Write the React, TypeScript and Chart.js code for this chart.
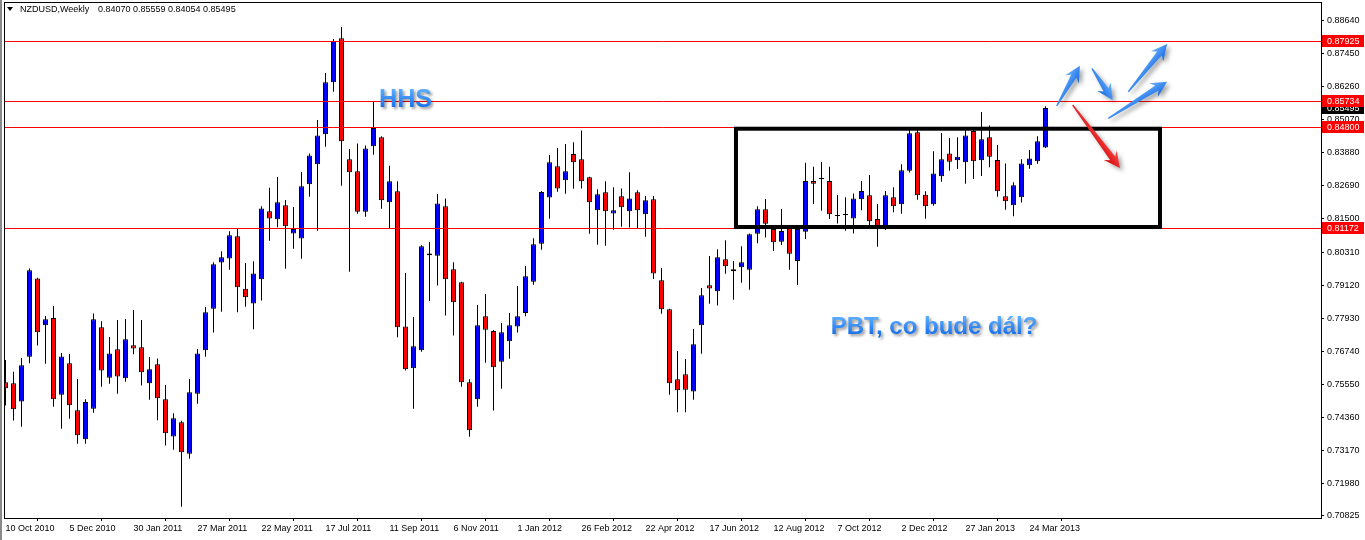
import React, { useEffect, useRef } from 'react';
import { Chart, registerables } from 'chart.js';

Chart.register(...registerables);

const SYMBOL = 'NZDUSD,Weekly';

const OPEN = [
  0.7562, 0.7558, 0.7493, 0.7654, 0.7936, 0.7767, 0.7793, 0.7517, 0.7630, 0.7461,
  0.7357, 0.7467, 0.7760, 0.7578, 0.7681, 0.7576, 0.7695, 0.7688, 0.7558, 0.7627,
  0.7501, 0.7367, 0.7418, 0.7305, 0.7521, 0.7677, 0.7827, 0.7993, 0.8008, 0.8088,
  0.7899, 0.7846, 0.7933, 0.8178, 0.8149, 0.8199, 0.8098, 0.8080, 0.8275, 0.8347,
  0.8455, 0.8642, 0.8801, 0.8365, 0.8322, 0.8176, 0.8412, 0.8444, 0.8210, 0.8250,
  0.7763, 0.7612, 0.7677, 0.8019, 0.8018, 0.8196, 0.7969, 0.7922, 0.7562, 0.7501,
  0.7800, 0.7747, 0.7636, 0.7710, 0.7763, 0.7811, 0.7924, 0.8061, 0.8227, 0.8340,
  0.8289, 0.8384, 0.8365, 0.8300, 0.8181, 0.8246, 0.8170, 0.8232, 0.8178, 0.8246,
  0.8167, 0.8221, 0.7929, 0.7825, 0.7573, 0.7591, 0.7529, 0.7767, 0.7911, 0.7890,
  0.8005, 0.7969, 0.7976, 0.7967, 0.8097, 0.8185, 0.8114, 0.8068, 0.8118, 0.7999,
  0.8104, 0.8287, 0.8295, 0.8287, 0.8162, 0.8165, 0.8152, 0.8221, 0.8235, 0.8150,
  0.8122, 0.8228, 0.8203, 0.8324, 0.8462, 0.8237, 0.8203, 0.8304, 0.8386, 0.8361,
  0.8354, 0.8467, 0.8361, 0.8444, 0.8362, 0.8232, 0.8199, 0.8228, 0.8343, 0.8358,
  0.84070,
];
const HIGH = [
  0.7642, 0.7600, 0.7649, 0.7972, 0.7938, 0.7801, 0.7837, 0.7667, 0.7664, 0.7574,
  0.7501, 0.7810, 0.7782, 0.7725, 0.7786, 0.7790, 0.7822, 0.7786, 0.7653, 0.7648,
  0.7552, 0.7450, 0.7423, 0.7574, 0.7682, 0.7833, 0.7994, 0.8034, 0.8106, 0.8115,
  0.7991, 0.7998, 0.8196, 0.8262, 0.8301, 0.8218, 0.8193, 0.8319, 0.8386, 0.8506,
  0.8676, 0.8798, 0.8841, 0.8402, 0.8422, 0.8415, 0.8574, 0.8448, 0.8342, 0.8286,
  0.7955, 0.7797, 0.8055, 0.8067, 0.8240, 0.8224, 0.7994, 0.7924, 0.7573, 0.7840,
  0.7880, 0.7750, 0.7775, 0.7811, 0.7909, 0.7981, 0.8081, 0.8251, 0.8380, 0.8406,
  0.8420, 0.8426, 0.8469, 0.8302, 0.8257, 0.8286, 0.8264, 0.8260, 0.8318, 0.8253,
  0.8233, 0.8233, 0.7973, 0.7827, 0.7675, 0.7646, 0.7754, 0.7901, 0.8017, 0.8041,
  0.8073, 0.7999, 0.8052, 0.8098, 0.8196, 0.8222, 0.8128, 0.8186, 0.8128, 0.8121,
  0.8352, 0.8338, 0.8355, 0.8338, 0.8236, 0.8228, 0.8242, 0.8287, 0.8308, 0.8204,
  0.8251, 0.8264, 0.8347, 0.8470, 0.8470, 0.8250, 0.8394, 0.8460, 0.8442, 0.8444,
  0.8481, 0.8481, 0.8535, 0.8487, 0.8416, 0.8350, 0.8282, 0.8365, 0.8398, 0.8448,
  0.85559,
];
const LOW = [
  0.7478, 0.7424, 0.7402, 0.7630, 0.7694, 0.7629, 0.7474, 0.7395, 0.7431, 0.7341,
  0.7341, 0.7452, 0.7546, 0.7557, 0.7521, 0.7564, 0.7663, 0.7550, 0.7499, 0.7425,
  0.7334, 0.7319, 0.7114, 0.7287, 0.7485, 0.7654, 0.7741, 0.7816, 0.7967, 0.7814,
  0.7834, 0.7753, 0.7856, 0.8072, 0.8120, 0.7971, 0.8043, 0.8007, 0.8230, 0.8108,
  0.8410, 0.8608, 0.8270, 0.7960, 0.8169, 0.8158, 0.8381, 0.8187, 0.8116, 0.7724,
  0.7604, 0.7467, 0.7672, 0.7855, 0.7910, 0.7802, 0.7730, 0.7546, 0.7366, 0.7474,
  0.7632, 0.7460, 0.7539, 0.7647, 0.7741, 0.7800, 0.7913, 0.8039, 0.8151, 0.8248,
  0.8241, 0.8259, 0.8260, 0.8097, 0.8057, 0.8054, 0.8111, 0.8122, 0.8119, 0.8116,
  0.8086, 0.7934, 0.7809, 0.7517, 0.7454, 0.7454, 0.7499, 0.7665, 0.7845, 0.7838,
  0.7953, 0.7859, 0.7920, 0.7895, 0.8063, 0.8083, 0.8035, 0.8056, 0.7967, 0.7912,
  0.8078, 0.8204, 0.8180, 0.8150, 0.8134, 0.8108, 0.8098, 0.8181, 0.8122, 0.8050,
  0.8110, 0.8174, 0.8169, 0.8317, 0.8219, 0.8151, 0.8198, 0.8284, 0.8324, 0.8330,
  0.8277, 0.8294, 0.8305, 0.8336, 0.8230, 0.8183, 0.8160, 0.8209, 0.8331, 0.8349,
  0.84054,
];
const CLOSE = [
  0.7540, 0.7465, 0.7623, 0.7965, 0.7742, 0.7789, 0.7501, 0.7655, 0.7479, 0.7371,
  0.7491, 0.7789, 0.7604, 0.7666, 0.7583, 0.7717, 0.7684, 0.7598, 0.7609, 0.7504,
  0.7378, 0.7432, 0.7310, 0.7526, 0.7666, 0.7814, 0.7987, 0.8012, 0.8091, 0.7904,
  0.7868, 0.7954, 0.8188, 0.8152, 0.8210, 0.8124, 0.8114, 0.8268, 0.8379, 0.8451,
  0.8642, 0.8791, 0.8430, 0.8318, 0.8176, 0.8404, 0.8478, 0.8217, 0.8286, 0.7760,
  0.7609, 0.7692, 0.8052, 0.8026, 0.8206, 0.7933, 0.7850, 0.7562, 0.7389, 0.7767,
  0.7751, 0.7616, 0.7742, 0.7767, 0.7800, 0.7944, 0.8059, 0.8247, 0.8354, 0.8260,
  0.8322, 0.8354, 0.8286, 0.8210, 0.8239, 0.8178, 0.8181, 0.8192, 0.8224, 0.8181,
  0.8217, 0.7954, 0.7825, 0.7558, 0.7533, 0.7535, 0.7699, 0.7875, 0.7900, 0.8012,
  0.7980, 0.7962, 0.7994, 0.8095, 0.8185, 0.8133, 0.8066, 0.8107, 0.8025, 0.8114,
  0.8287, 0.8277, 0.8294, 0.8167, 0.8161, 0.8164, 0.8224, 0.8251, 0.8142, 0.8122,
  0.8235, 0.8196, 0.8325, 0.8459, 0.8235, 0.8196, 0.8314, 0.8365, 0.8356, 0.8374,
  0.8451, 0.8358, 0.8437, 0.8374, 0.8250, 0.8214, 0.8271, 0.8350, 0.8368, 0.8430,
  0.85495,
];

const DATE_LABELS = [
  '10 Oct 2010', '5 Dec 2010', '30 Jan 2011', '27 Mar 2011', '22 May 2011', '17 Jul 2011',
  '11 Sep 2011', '6 Nov 2011', '1 Jan 2012', '26 Feb 2012', '22 Apr 2012', '17 Jun 2012',
  '12 Aug 2012', '7 Oct 2012', '2 Dec 2012', '27 Jan 2013', '24 Mar 2013',
];
const DATE_TICK_BARS = [0, 8, 16, 24, 32, 40, 48, 56, 64, 72, 80, 88, 96, 104, 112, 120, 128];

const Y_TICKS = [
  0.8864, 0.8745, 0.8626, 0.8507, 0.8388, 0.8269, 0.815, 0.8031,
  0.7912, 0.7793, 0.7674, 0.7555, 0.7436, 0.7317, 0.7198, 0.70825,
];
const Y_MIN = 0.70732;
const Y_MAX = 0.89313;
const X_MIN = -0.1875;
const X_MAX = 164.4375;

const LEVELS = [0.87925, 0.85734, 0.848, 0.81172];
const CURRENT_PRICE = 0.85495;

// rectangle: [barFrom, barTo, priceTop, priceBottom]
const BOX = [91.31, 144.31, 0.8475, 0.8121];

// arrows: [tailBar, tailPrice, headBar, headPrice]
const BLUE_ARROWS = [
  [131.4, 0.85568, 134.3, 0.87019],
  [135.8, 0.86926, 138.4, 0.85784],
  [140.35, 0.86083, 145.2, 0.87801],
  [137.85, 0.85125, 145.2, 0.86443],
];
const RED_ARROWS = [[133.4, 0.85604, 139.3, 0.83335]];

// texts: [text, centerBar, baselinePrice, fontSize]
const NOTES: [string, number, number, number][] = [
  ['HHS', 50.0, 0.85532, 25],
  ['PBT, co bude dál?', 116.06, 0.77358, 24],
];

const FONT = '"Liberation Sans", Arial, sans-serif';

function drawArrow(ctx: CanvasRenderingContext2D, x1: number, y1: number, x2: number, y2: number, c1: string, c2: string) {
  const dx = x2 - x1;
  const dy = y2 - y1;
  const len = Math.hypot(dx, dy);
  const ang = Math.atan2(dy, dx);
  ctx.save();
  ctx.translate(x1, y1);
  ctx.rotate(ang);
  const hl = 15;
  const hw = 8;
  const sw = 3;
  ctx.beginPath();
  ctx.moveTo(0, -0.7);
  ctx.lineTo(len - hl + 3, -sw);
  ctx.lineTo(len - hl - 1, -hw);
  ctx.lineTo(len, 0);
  ctx.lineTo(len - hl - 1, hw);
  ctx.lineTo(len - hl + 3, sw);
  ctx.lineTo(0, 0.7);
  ctx.closePath();
  const g = ctx.createLinearGradient(0, -hw, 0, hw);
  g.addColorStop(0, c1);
  g.addColorStop(1, c2);
  ctx.shadowColor = 'rgba(0,0,0,0.35)';
  ctx.shadowBlur = 4;
  ctx.shadowOffsetX = 3;
  ctx.shadowOffsetY = 3;
  ctx.fillStyle = g;
  ctx.fill();
  ctx.restore();
}

const overlayPlugin = {
  id: 'overlay',
  afterDraw(chart: any) {
    const { ctx, chartArea: a } = chart;
    const x = chart.scales.x;
    const y = chart.scales.y;
    ctx.save();

    // horizontal levels
    ctx.strokeStyle = '#ff0000';
    ctx.lineWidth = 1;
    LEVELS.forEach((v) => {
      const py = Math.round(y.getPixelForValue(v)) + 0.5;
      ctx.beginPath();
      ctx.moveTo(a.left, py);
      ctx.lineTo(a.right, py);
      ctx.stroke();
    });

    // rectangle
    const bx1 = x.getPixelForValue(BOX[0]);
    const bx2 = x.getPixelForValue(BOX[1]);
    const by1 = y.getPixelForValue(BOX[2]);
    const by2 = y.getPixelForValue(BOX[3]);
    ctx.strokeStyle = '#000';
    ctx.lineWidth = 4;
    ctx.strokeRect(bx1, by1, bx2 - bx1, by2 - by1);

    // frame
    ctx.lineWidth = 1;
    ctx.strokeStyle = '#000';
    ctx.strokeRect(a.left + 0.5, a.top + 0.5, a.right - a.left, a.bottom - a.top);
    ctx.fillStyle = '#8a8a8a';
    ctx.fillRect(0, 0, 2, chart.height);

    // header
    ctx.fillStyle = '#000';
    ctx.beginPath();
    ctx.moveTo(7, 7);
    ctx.lineTo(13, 7);
    ctx.lineTo(10, 11);
    ctx.closePath();
    ctx.fill();
    ctx.font = `9px ${FONT}`;
    ctx.textBaseline = 'middle';
    ctx.textAlign = 'left';
    const n = CLOSE.length - 1;
    ctx.fillText(SYMBOL, 20, 9.5);
    ctx.fillText(
      [OPEN[n], HIGH[n], LOW[n], CLOSE[n]].map((v) => v.toFixed(5)).join(' '),
      98,
      9.5,
    );

    // notes
    NOTES.forEach(([text, bar, price, size]) => {
      const px = x.getPixelForValue(bar);
      const py = y.getPixelForValue(price);
      ctx.save();
      ctx.font = `bold ${size}px ${FONT}`;
      ctx.textAlign = 'center';
      ctx.textBaseline = 'alphabetic';
      ctx.shadowColor = 'rgba(0,0,0,0.4)';
      ctx.shadowBlur = 3;
      ctx.shadowOffsetX = 2;
      ctx.shadowOffsetY = 2;
      const g = ctx.createLinearGradient(0, py - size * 0.75, 0, py);
      g.addColorStop(0, '#5fb0ff');
      g.addColorStop(1, '#1a72ec');
      ctx.fillStyle = g;
      ctx.fillText(text, px, py);
      ctx.restore();
    });

    // arrows
    BLUE_ARROWS.forEach(([b1, p1, b2, p2]) => {
      drawArrow(ctx, x.getPixelForValue(b1), y.getPixelForValue(p1), x.getPixelForValue(b2), y.getPixelForValue(p2), '#6ab4ff', '#1466e0');
    });
    RED_ARROWS.forEach(([b1, p1, b2, p2]) => {
      drawArrow(ctx, x.getPixelForValue(b1), y.getPixelForValue(p1), x.getPixelForValue(b2), y.getPixelForValue(p2), '#ff5050', '#d00000');
    });

    // price tags
    const tag = (v: number, bg: string) => {
      const py = Math.round(y.getPixelForValue(v));
      ctx.fillStyle = bg;
      ctx.fillRect(a.right + 1, py - 6, chart.width - a.right - 2, 12);
      ctx.fillStyle = '#fff';
      ctx.font = `9px ${FONT}`;
      ctx.textAlign = 'left';
      ctx.textBaseline = 'middle';
      ctx.fillText(v.toFixed(5), a.right + 6, py + 0.5);
    };
    tag(CURRENT_PRICE, '#000');
    LEVELS.forEach((v) => tag(v, '#ff0000'));

    ctx.restore();
  },
};

export default function App() {
  const ref = useRef<HTMLCanvasElement>(null);

  useEffect(() => {
    document.body.style.margin = '0';
    const bodies = OPEN.map((o, i) => ({ x: i, y: [o, CLOSE[i]] }));
    const wicks = LOW.map((l, i) => ({ x: i, y: [l, HIGH[i]] }));
    const colors = OPEN.map((o, i) => (CLOSE[i] >= o ? '#0000ff' : '#ff0000'));

    const chart = new Chart(ref.current as HTMLCanvasElement, {
      type: 'bar',
      data: {
        datasets: [
          {
            label: 'body',
            data: bodies as any,
            backgroundColor: colors,
            borderColor: '#000',
            borderWidth: 1,
            borderSkipped: false,
            barThickness: 5,
            maxBarThickness: 5,
            minBarLength: 1,
            inflateAmount: 0,
            grouped: false,
            order: 0,
          } as any,
          {
            label: 'wick',
            data: wicks as any,
            backgroundColor: '#000',
            borderWidth: 0,
            barThickness: 1,
            maxBarThickness: 1,
            inflateAmount: 0,
            grouped: false,
            order: 1,
          } as any,
        ],
      },
      options: {
        animation: false,
        responsive: false,
        maintainAspectRatio: false,
        layout: { padding: { left: 4, top: 2, right: 0, bottom: 0 } },
        plugins: { legend: { display: false }, tooltip: { enabled: false } },
        scales: {
          x: {
            type: 'linear',
            min: X_MIN,
            max: X_MAX,
            offset: false,
            border: { display: false },
            grid: { display: true, drawOnChartArea: false, drawTicks: true, tickLength: 3, color: '#000' },
            ticks: {
              autoSkip: false,
              maxRotation: 0,
              align: 'start',
              padding: 2,
              color: '#000',
              font: { family: FONT, size: 9 },
              callback: (v: any) => {
                const k = DATE_TICK_BARS.indexOf(Number(v));
                return k >= 0 ? DATE_LABELS[k] : '';
              },
            },
            afterBuildTicks: (s: any) => {
              s.ticks = DATE_TICK_BARS.map((v) => ({ value: v }));
            },
            afterFit: (s: any) => {
              s.height = 22;
              s.paddingLeft = 0;
              s.paddingRight = 0;
              s.paddingTop = 0;
              s.paddingBottom = 0;
            },
          } as any,
          y: {
            type: 'linear',
            position: 'right',
            min: Y_MIN,
            max: Y_MAX,
            border: { display: false },
            grid: { display: true, drawOnChartArea: false, drawTicks: true, tickLength: 3, color: '#000' },
            ticks: {
              autoSkip: false,
              padding: 3,
              color: '#000',
              font: { family: FONT, size: 9 },
              callback: (v: any) => Number(v).toFixed(5),
            },
            afterBuildTicks: (s: any) => {
              s.ticks = Y_TICKS.map((v) => ({ value: v }));
            },
            afterFit: (s: any) => {
              s.width = 44;
              s.paddingLeft = 0;
              s.paddingRight = 0;
              s.paddingTop = 0;
              s.paddingBottom = 0;
            },
          } as any,
        },
      },
      plugins: [overlayPlugin],
    });
    return () => chart.destroy();
  }, []);

  return (
    <div style={{ position: 'fixed', left: 0, top: 0, width: 1365, height: 540, background: '#fff' }}>
      <canvas ref={ref} width={1365} height={540} style={{ display: 'block', width: 1365, height: 540 }} />
    </div>
  );
}
